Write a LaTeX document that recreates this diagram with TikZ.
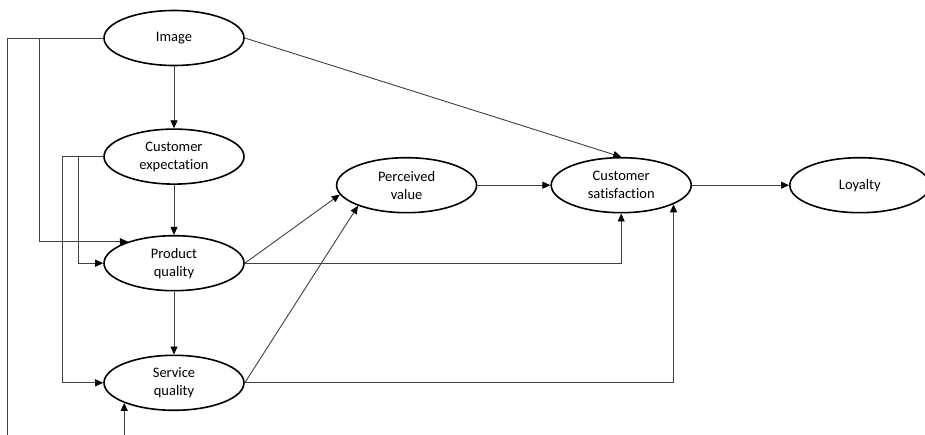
\documentclass[tikz,border=0pt]{standalone}
\usepackage{fontspec}
\setmainfont{Carlito}[Ligatures=NoCommon]
\usetikzlibrary{positioning, arrows.meta, shapes.geometric}

\begin{document}
\begin{tikzpicture}[auto, node distance=2cm, >={Triangle[length=8pt, width=7pt, color=black]},
        concept/.style = {draw, ellipse, line width=1.6pt, minimum width=140pt, minimum height=55pt, inner sep=0pt, align=center, font=\fontsize{14.5}{18}\selectfont},
        link/.style = {->, draw=black!75, line width=0.9pt},
        edge/.style = {coordinate},
        ]
        \useasboundingbox (0,0) rectangle (925pt,-435pt);
        \node [concept] (image) at (174pt,-38pt) {Image};
        \node [concept, below= 62pt of image] (expect) {Customer\\expectation};
        \node [concept, below= 50pt of expect] (product) {Product\\quality};
        \node [concept, below= 63pt of product] (service) {Service\\quality};
        \node [concept, right= 91pt of product, yshift=78pt] (value) {Perceived\\value};
        \node [concept, right= 73pt of value] (satisf) {Customer\\satisfaction};
        \node [concept, right= 97pt of satisf] (loyalty) {Loyalty};
        \node [edge] (edgeL) at (7pt,-435pt) {};
        \node [edge] (edgeB) at (0pt,-435pt) {};

        \draw [link] (image) -- (expect);
        \draw [link] (image.east) -- (satisf.north);
        \draw [draw=black!75, line width=0.9pt] (image.west) -| (edgeL);
        \draw [link] (image.west) -- ++(-64pt,0) |- (product.155);
        \draw [link] (expect.west) -- ++(-25pt,0) |- (product.west);
        \draw [link] (expect.west) -- ++(-41pt,0) |- (service.west);
        \draw [link] (expect) -- (product);
        \draw [link] (product) -- (service);
        \draw [link] (service.-158 |- edgeB) -- (service.-158);
        \draw [link] (product.east) -- (value.188);
        \draw [link] (service.east) -- (value.-157);
        \draw [link] (product.east) -| (satisf.south);
        \draw [link] (service.east) -| (satisf.-20);
        \draw [link] (value) -- (satisf);
        \draw [link] (satisf) -- (loyalty);
    \end{tikzpicture}
\end{document}
